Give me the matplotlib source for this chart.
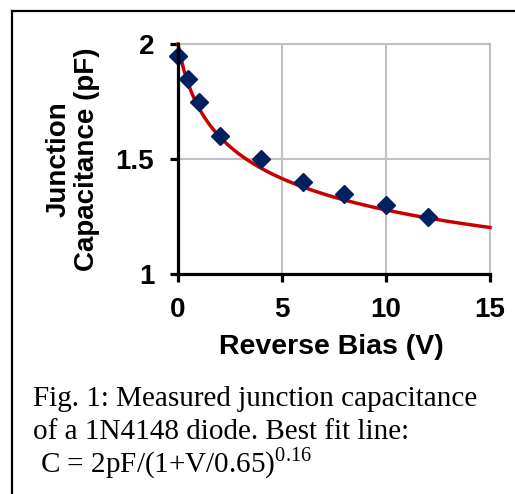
import matplotlib
matplotlib.use("Agg")
import matplotlib.pyplot as plt
import numpy as np
from matplotlib.lines import Line2D

# measured junction capacitance of a 1N4148 diode
bias_v = [0, 0.5, 1, 2, 4, 6, 8, 10, 12]
cap_pf = [1.95, 1.85, 1.75, 1.60, 1.50, 1.40, 1.35, 1.30, 1.25]

# best fit: C = C0 / (1 + V/phi)^m
c0, phi, m = 2.0, 0.65, 0.16
x_ticks = [0, 5, 10, 15]
y_ticks = [1, 1.5, 2]

plt.rcParams['font.family'] = ['Liberation Sans', 'DejaVu Sans']
plt.rcParams['mathtext.fontset'] = 'custom'
plt.rcParams['mathtext.rm'] = 'Liberation Serif'

fig = plt.figure(figsize=(5.15, 4.94), dpi=100)
ax = fig.add_axes([0.3456, 0.4453, 0.6059, 0.4656])

v = np.linspace(0, 15, 300)
fit = c0 / (1 + v / phi) ** m
ax.plot(v, fit, color='#c80000', lw=2.5, zorder=3, clip_on=False)
ax.plot(bias_v, cap_pf, 'D', color='#002060', ms=8.8, zorder=4, clip_on=False)

ax.set_xlim(0, 15)
ax.set_ylim(1, 2)
ax.set_xticks(x_ticks)
ax.set_yticks(y_ticks)
ax.set_xticklabels([str(t) for t in x_ticks])
ax.set_yticklabels(['1', '1.5', '2'])
ax.grid(True, color='#c0c0c0', lw=1.5, zorder=0)
ax.set_axisbelow(True)

for side in ['top', 'right']:
    ax.spines[side].set_color('#c0c0c0')
    ax.spines[side].set_linewidth(1.5)
for side in ['left', 'bottom']:
    ax.spines[side].set_color('black')
    ax.spines[side].set_linewidth(2.3)
    ax.spines[side].set_zorder(5)

ax.tick_params(axis='both', direction='out', length=6, width=2.3, color='black',
               labelsize=20)
ax.tick_params(axis='x', pad=10.5)
ax.tick_params(axis='y', pad=11)
for lab in ax.get_xticklabels() + ax.get_yticklabels():
    lab.set_fontweight('bold')

ax.set_xlabel('Reverse Bias (V)', fontsize=20.5, fontweight='bold')
ax.xaxis.set_label_coords(0.49, -0.262)
ax.set_ylabel('Junction\nCapacitance (pF)', fontsize=20, fontweight='bold',
              linespacing=1.1)
ax.yaxis.set_label_coords(-0.25, 0.5)

# caption
cap_font = dict(family='Liberation Serif', fontsize=21, va='baseline', ha='left')
fig.text(33 / 515, 1 - 406 / 494, 'Fig. 1: Measured junction capacitance', **cap_font)
fig.text(33 / 515, 1 - 439 / 494, 'of a 1N4148 diode. Best fit line:', **cap_font)
fig.text(33 / 515, 1 - 472 / 494, r' C = 2pF/(1+V/0.65)$^{\mathrm{0.16}}$', **cap_font)

# box edges around the figure
fig.add_artist(Line2D([12 / 515, 12 / 515], [0, 1 - 11 / 494], color='black', lw=1.6))
fig.add_artist(Line2D([12 / 515, 1], [1 - 11 / 494, 1 - 11 / 494], color='black', lw=1.6))

fig.savefig('out.png', dpi=100)
